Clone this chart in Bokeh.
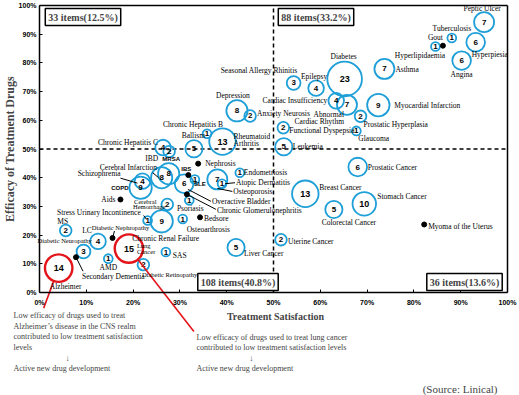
import math
from bokeh.plotting import figure
from bokeh.models import Range1d, FixedTicker, Label, ColumnDataSource, LinearAxis
from bokeh.core.properties import value
from bokeh.embed import file_html
from bokeh.resources import INLINE

# ---------------- data ----------------
names = ["Peptic Ulcer", "Tuberculosis", "Gout", "Hyperpiesia", "Angina", "Asthma",
         "Diabetes", "Epilepsy", "Seasonal Allergy Rhinitis", "Cardiac Insufficiency",
         "Abnormal Cardiac Rhythm", "Myocardial Infarction", "Prostatic Hyperplasia",
         "Functional Dyspepsia", "Glaucoma", "Leukemia", "Depression", "Anxiety Neurosis",
         "Chronic Hepatitis B", "Rheumatoid Arthritis", "Chronic Hepatitis C", "MRSA",
         "Ballism", "IBD", "IBD (2)", "Cerebral Infarction", "COPD", "SLE",
         "Overactive Bladder", "Osteoporosis", "Atopic Dermatitis", "Endometriosis",
         "Cerebral Hemorrhage", "Psoriasis", "Stress Urinary Incontinence",
         "Chronic Renal Failure", "Osteoarthrosis", "MS", "LC", "Diabetic Neuropathy",
         "Lung Cancer", "AMD", "SAS", "Diabetic Retinopathy", "Alzheimer", "Liver Cancer",
         "Prostatic Cancer", "Breast Cancer", "Stomach Cancer", "Colorectal Cancer",
         "Uterine Cancer"]
sat = [95.0, 88.1, 84.6, 93.2, 90.2, 73.7,
       65.2, 59.1, 54.3, 63.4,
       65.7, 72.4, 68.6,
       52.1, 67.7, 52.2, 42.2, 45.0,
       35.8, 39.1, 26.4, 27.7,
       33.0, 26.1, 27.6, 22.0, 21.6, 33.2,
       30.9, 38.0, 39.0, 42.8,
       27.3, 32.0, 23.1,
       26.1, 30.6, 5.6, 12.5, 9.4,
       19.1, 14.7, 27.0, 22.2, 4.1, 42.0,
       68.0, 56.8, 69.4, 62.9,
       51.6]
eff = [94.2, 88.7, 85.7, 87.2, 80.8, 77.9,
       74.4, 71.2, 73.0, 66.8,
       65.4, 65.3, 61.4,
       57.4, 56.3, 50.8, 63.3, 61.5,
       55.3, 52.6, 50.5, 49.1,
       50.1, 40.0, 41.4, 38.8, 36.5, 39.4,
       37.9, 39.4, 37.9, 41.7,
       30.7, 32.1, 25.1,
       24.8, 25.6, 21.6, 17.8, 14.3,
       15.3, 11.8, 14.1, 9.7, 8.5, 15.7,
       43.7, 34.4, 30.9, 28.9,
       18.4]
counts = [7, 1, 1, 6, 6, 7,
          23, 4, 3, 4,
          7, 9, 2,
          2, 1, 5, 8, 2,
          1, 13, 4, 2,
          5, 8, 8, 4, 9, 1,
          6, 7, 1, 1,
          2, 1, 1,
          9, 1, 2, 4, 3,
          15, 1, 1, 2, 14, 5,
          6, 13, 10, 5,
          2]
highlight = ["Alzheimer", "Lung Cancer"]

dot_names = ["Hyperlipidaemia", "IBS", "Nephrosis", "Chronic Glomerulonephritis", "Aids",
             "Bedsore", "Diabetic Nephropathy", "Secondary Dementia", "Myoma of the Uterus"]
dot_sat = [86.2, 31.8, 33.9, 31.5, 17.3, 34.3, 15.6, 7.8, 82.2]
dot_eff = [86.0, 40.9, 44.9, 34.2, 32.4, 26.2, 19.0, 12.3, 23.7]

quadrant_text = ["33 items(12.5%)", "88 items(33.2%)", "108 items(40.8%)", "36 items(13.6%)"]
threshold = 50
axis_min, axis_max = 0, 100
ticks = list(range(0, 101, 10))
tick_labels = [f"{t}%" for t in ticks]

x_title = "Treatment Satisfaction"
y_title = "Efficacy of Treatment Drugs"
note1 = ["Low efficacy of drugs used to treat",
         "Alzheimer\u2019s disease in the CNS realm",
         "contributed to low treatment satisfaction",
         "levels"]
note2 = ["Low efficacy of drugs used to treat lung cancer",
         "contributed to low treatment satisfaction levels"]
note_tail = "Active new drug development"
source_text = "(Source: Linical)"

# ---------------- layout / style ----------------
W, H = 519, 395
PAGE_LEFT, PAGE_RIGHT, PAGE_TOP, PAGE_BOTTOM = 39, 507, 5, 292
XS = (PAGE_RIGHT - PAGE_LEFT) / 100.0
YS = (PAGE_BOTTOM - PAGE_TOP) / 100.0

def px2x(page_x):
    return (page_x - PAGE_LEFT) / XS

def px2y(page_y):
    return (PAGE_BOTTOM - page_y) / YS

BLUE = "#1f9fd8"
RED = "#e3151b"
SERIF = "Liberation Serif"
SANS = "Liberation Sans"

pos = {n: (x, y) for n, x, y in zip(names, sat, eff)}
pos.update({n: (x, y) for n, x, y in zip(dot_names, dot_sat, dot_eff)})

# label placement (pixel offsets from the item)
labels = [
    ("Peptic Ulcer", "Peptic Ulcer", -2, -14, "center", "s"),
    ("Tuberculosis", "Tuberculosis", 0, -9, "center", "s"),
    ("Gout", "Gout", 0, -9, "center", "s"),
    ("Hyperlipidaemia", "Hyperlipidaemia", -23, 10, "center", "s"),
    ("Hyperpiesia", "Hyperpiesia", -4, 12, "left", "s"),
    ("Angina", "Angina", 0, 14, "center", "s"),
    ("Asthma", "Asthma", 11, 1, "left", "s"),
    ("Diabetes", "Diabetes", -1, -22, "center", "s"),
    ("Epilepsy", "Epilepsy", -2, -12, "center", "s"),
    ("Seasonal Allergy Rhinitis", "Seasonal Allergy Rhinitis", 4, -12, "right", "s"),
    ("Cardiac Insufficiency", "Cardiac Insufficiency", -9, 0, "right", "s"),
    ("Abnormal Cardiac Rhythm", "Abnormal", -3, 10, "right", "s"),
    ("Abnormal Cardiac Rhythm", "Cardiac Rhythm", -3, 17, "right", "s"),
    ("Myocardial Infarction", "Myocardial Infarction", 16, 0, "left", "s"),
    ("Prostatic Hyperplasia", "Prostatic Hyperplasia", 3, 8, "left", "s"),
    ("Functional Dyspepsia", "Functional Dyspepsia", 6, 3, "left", "s"),
    ("Glaucoma", "Glaucoma", 2, 8, "left", "s"),
    ("Leukemia", "Leukemia", 9, 0, "left", "s"),
    ("Depression", "Depression", -4, -15, "center", "s"),
    ("Anxiety Neurosis", "Anxiety Neurosis", 7, -2, "left", "s"),
    ("Chronic Hepatitis B", "Chronic Hepatitis B", -14, -9, "center", "s"),
    ("Chronic Hepatitis B", "Ballism", -2, 2, "right", "s"),
    ("Rheumatoid Arthritis", "Rheumatoid", 11, -5, "left", "s"),
    ("Rheumatoid Arthritis", "Arthritis", 11, 2, "left", "s"),
    ("Chronic Hepatitis C", "Chronic Hepatitis C", -5, -5, "right", "s"),
    ("MRSA", "MRSA", 2, 7, "center", "b"),
    ("IBD", "IBD", -10, -19, "center", "s"),
    ("Cerebral Infarction", "Cerebral Infarction", -14, -14, "center", "s"),
    ("COPD", "Schizophrenia", -20, -14, "right", "s"),
    ("COPD", "COPD", -12, 0, "right", "b"),
    ("Aids", "Aids", -5, 0, "right", "s"),
    ("Cerebral Hemorrhage", "Cerebral", -22, -3, "center", "t"),
    ("Cerebral Hemorrhage", "Hemorrhage", -18, 2, "center", "t"),
    ("IBS", "IBS", -2, -6, "center", "b"),
    ("Nephrosis", "Nephrosis", 7, 0, "left", "s"),
    ("SLE", "SLE", 5, 5, "center", "b"),
    ("Chronic Glomerulonephritis", "Overactive Bladder", 25, 7, "left", "s"),
    ("Chronic Glomerulonephritis", "Chronic Glomerulonephritis", 30, 16, "left", "s"),
    ("Osteoporosis", "Osteoporosis", 16, 12, "left", "s"),
    ("Atopic Dermatitis", "Atopic Dermatitis", 14, -1, "left", "s"),
    ("Endometriosis", "Endometriosis", 4, 0, "left", "s"),
    ("Psoriasis", "Psoriasis", 1, 8, "center", "s"),
    ("Bedsore", "Bedsore", 4, 1, "left", "s"),
    ("Osteoarthrosis", "Osteoarthrosis", 4, 10, "left", "s"),
    ("Stress Urinary Incontinence", "Stress Urinary  Incontinence", -5, -8, "right", "s"),
    ("Chronic Renal Failure", "Chronic Renal Failure", 4, 17, "center", "s"),
    ("MS", "MS", -3, -9, "center", "s"),
    ("LC", "LC", -11, -11, "center", "s"),
    ("Diabetic Nephropathy", "Diabetic Nephropathy", 8, -10, "center", "t"),
    ("Diabetic Neuropathy", "Diabetic  Neuropathy", -18, -11, "center", "t"),
    ("Secondary Dementia", "Secondary Dementia", 6, 19, "left", "s"),
    ("Lung Cancer", "Lung", 8, -3, "left", "t"),
    ("Lung Cancer", "Cancer", 8, 3, "left", "t"),
    ("AMD", "AMD", 0, 9, "center", "s"),
    ("SAS", "SAS", 7, 3, "left", "s"),
    ("Diabetic Retinopathy", "Diabetic  Retinopathy", 27, 10, "center", "t"),
    ("Alzheimer", "Alzheimer", 7, 18, "center", "s"),
    ("Liver Cancer", "Liver Cancer", 8, 6, "left", "s"),
    ("Prostatic Cancer", "Prostatic Cancer", 10, 0, "left", "s"),
    ("Breast Cancer", "Breast Cancer", 14, -6, "left", "s"),
    ("Stomach Cancer", "Stomach Cancer", 13, -7, "left", "s"),
    ("Colorectal Cancer", "Colorectal Cancer", 15, 13, "center", "s"),
    ("Myoma of the Uterus", "Myoma of the Uterus", 4, 2, "left", "s"),
    ("Uterine Cancer", "Uterine Cancer", 7, 2, "left", "s"),
]

# leader lines: (item, dx0, dy0, dx1, dy1) in pixels
leaders = [
    ("IBD", -9, -5, -3, 0),
    ("Cerebral Infarction", -22, -3, -5, 2),
    ("Diabetic Nephropathy", 0, 0, 2, -7),
    ("Secondary Dementia", 0, 0, 7, 14),
    ("Chronic Glomerulonephritis", 1, -5, 24, 7),
    ("Chronic Glomerulonephritis", 0, 0, 29, 15),
    ("Osteoporosis", 0, 9, 15, 12),
    ("Atopic Dermatitis", 3, 0, 13, -1),
    ("Stress Urinary Incontinence", -4, -5, -1, -1),
]
# red call-out lines: (item, dx0, dy0, dx1, dy1) in pixels
callouts = [("Alzheimer", -5, 13, -15, 40), ("Lung Cancer", 9, 11, 65, 83)]

# ---------------- figure (frame fills the whole canvas) ----------------
p = figure(width=W, height=H,
           x_range=Range1d(px2x(0), px2x(W)), y_range=Range1d(px2y(H), px2y(0)),
           output_backend="svg", toolbar_location=None, min_border=0)
p.background_fill_color = "white"
p.border_fill_color = "white"
p.grid.visible = False
p.outline_line_color = None

def style_axis(ax, show_labels):
    ax.bounds = (axis_min, axis_max)
    ax.ticker = FixedTicker(ticks=ticks)
    ax.axis_line_color = "black"
    ax.axis_line_width = 1.5
    ax.minor_tick_line_color = None
    if show_labels:
        ax.major_label_overrides = {t: l for t, l in zip(ticks, tick_labels)}
        ax.major_tick_in = 3
        ax.major_tick_out = 0
        ax.major_label_text_font = SANS
        ax.major_label_text_font_style = "bold"
        ax.major_label_text_font_size = "7px"
        ax.major_label_text_color = "black"
    else:
        ax.major_tick_line_color = None
        ax.major_label_text_color = None

xa, ya = p.xaxis[0], p.yaxis[0]
xa.fixed_location = axis_min
ya.fixed_location = axis_min
style_axis(xa, True)
style_axis(ya, True)
xa.major_label_standoff = 6
ya.major_label_standoff = 3
top_ax = LinearAxis(fixed_location=axis_max)
right_ax = LinearAxis(fixed_location=axis_max)
style_axis(top_ax, False)
style_axis(right_ax, False)
p.add_layout(top_ax, "above")
p.add_layout(right_ax, "right")

# quadrant lines
p.segment([threshold, axis_min], [axis_min, threshold], [threshold, axis_max], [axis_max, threshold],
          line_color="black", line_width=1.5, line_dash="4 3")

# bubbles
sizes = [2 * (1 + 3.4 * math.sqrt(c)) for c in counts]
colors = [RED if n in highlight else BLUE for n in names]
widths = [2.4 if n in highlight else 1.8 for n in names]
fsizes = ["9px" if c >= 10 else "8px" for c in counts]
bsrc = ColumnDataSource(dict(x=sat, y=eff, size=sizes, color=colors, lw=widths,
                             fs=fsizes, txt=[str(c) for c in counts]))
p.scatter("x", "y", size="size", source=bsrc, marker="circle", fill_color=None,
          line_color="color", line_width="lw")
p.text("x", "y", text="txt", source=bsrc, text_align="center", text_baseline="middle",
       text_font=value(SANS), text_font_style="bold", text_font_size="fs", text_color="black")

# black dots
p.scatter(dot_sat, dot_eff, size=5, marker="circle", fill_color="black", line_color="black")

# leader lines and red call-outs
def offset_segments(items):
    x0, y0, x1, y1 = [], [], [], []
    for k, a, b, c, d in items:
        x, y = pos[k]
        x0.append(x + a / XS); y0.append(y - b / YS)
        x1.append(x + c / XS); y1.append(y - d / YS)
    return x0, y0, x1, y1

p.segment(*offset_segments(leaders), line_color="black", line_width=1)
p.segment(*offset_segments(callouts), line_color=RED, line_width=1.6)

# item labels
fonts = {"s": (SERIF, "normal", "7.5px"), "t": (SERIF, "normal", "6.5px"), "b": (SANS, "bold", "6px")}
groups = {}
for k, t, dx, dy, al, kind in labels:
    x, y = pos[k]
    g = groups.setdefault((al, kind), dict(x=[], y=[], t=[], dx=[], dy=[]))
    g["x"].append(x); g["y"].append(y); g["t"].append(t); g["dx"].append(dx); g["dy"].append(dy)
for (al, kind), g in groups.items():
    f, st, sz = fonts[kind]
    p.text("x", "y", text="t", x_offset="dx", y_offset="dy", source=ColumnDataSource(g),
           text_align=al, text_baseline="middle", text_font=value(f), text_font_style=st,
           text_font_size=sz, text_color="black")

# quadrant boxes
qx = [px2x(82.5), px2x(315.5), px2x(237.5), px2x(464)]
qy = [axis_max - 11.5 / YS, axis_max - 11.5 / YS, axis_min + 10.5 / YS, axis_min + 10.5 / YS]
for t, x, y in zip(quadrant_text, qx, qy):
    p.add_layout(Label(x=x, y=y, text=t, text_align="center", text_baseline="middle",
                       text_font=SERIF, text_font_style="bold", text_font_size="10px",
                       background_fill_color="white", border_line_color="black",
                       border_line_width=1.5, padding=3))

# titles and notes
p.add_layout(Label(x=px2x(275), y=px2y(316), text=x_title, text_align="center",
                   text_baseline="middle", text_font=SERIF, text_font_style="bold",
                   text_font_size="10px"))
p.add_layout(Label(x=px2x(9), y=(axis_min + axis_max) / 2, text=y_title, angle=math.pi / 2,
                   text_align="center", text_baseline="middle", text_font=SERIF,
                   text_font_style="bold", text_font_size="12px"))
for i, line in enumerate(note1):
    p.add_layout(Label(x=px2x(13), y=px2y(315 + 10.6 * i), text=line, text_align="left",
                       text_baseline="middle", text_font=SERIF, text_font_size="8px"))
for i, line in enumerate(note2):
    p.add_layout(Label(x=px2x(196), y=px2y(336.7 + 10.6 * i), text=line, text_align="left",
                       text_baseline="middle", text_font=SERIF, text_font_size="8px"))
for bx, ax_ in ((13, 67), (196, 250.7)):
    p.add_layout(Label(x=px2x(ax_), y=px2y(357.5), text="\u2193", text_align="center",
                       text_baseline="middle", text_font=SERIF, text_font_size="8px"))
    p.add_layout(Label(x=px2x(bx), y=px2y(368.3), text=note_tail, text_align="left",
                       text_baseline="middle", text_font=SERIF, text_font_size="8px"))
p.add_layout(Label(x=px2x(497), y=px2y(388), text=source_text, text_align="right",
                   text_baseline="middle", text_font=SERIF, text_font_size="11px"))

open("out.html", "w").write(file_html(p, INLINE))
